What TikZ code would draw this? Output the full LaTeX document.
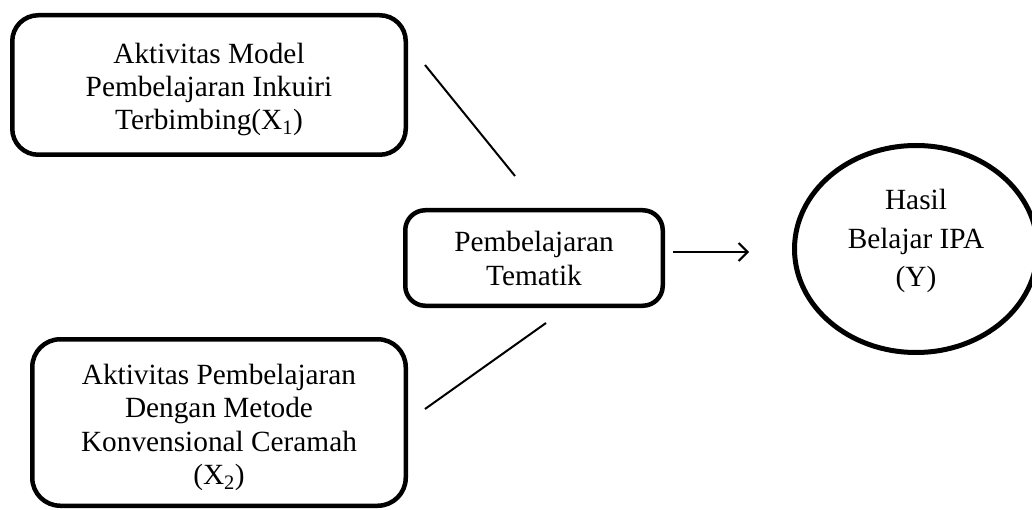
\documentclass[tikz,border=0pt]{standalone}
\usepackage{fontspec}
\setmainfont{Liberation Serif}
\usetikzlibrary{arrows.meta,shapes.geometric}
\begin{document}
\begin{tikzpicture}[x=1pt,y=-1pt,
  box/.style={draw,line width=4.5pt,rounded corners=#1,inner sep=0pt},
  link/.style={line width=2pt},
  txt/.style={align=center,inner sep=0pt,font=\fontsize{29.3}{33.3}\selectfont}]
\useasboundingbox (0,0) rectangle (1032,510);
\clip (0,0) rectangle (1032,510);
\node[box=26pt,minimum width=393.5pt,minimum height=139.5pt] (x1) at (209,85) {};
\node[txt] (x1t) at (209,89.5)
  {Aktivitas Model\\Pembelajaran Inkuiri\\Terbimbing(X\textsubscript{1})};
\node[box=28pt,minimum width=373.5pt,minimum height=166.5pt] (x2) at (219,422.5) {};
\node[txt] (x2t) at (219,427.5)
  {Aktivitas Pembelajaran\\Dengan Metode\\Konvensional Ceramah\\(X\textsubscript{2})};
\node[box=20pt,minimum width=257.5pt,minimum height=95.5pt] (tm) at (534,258) {};
\node[txt] (tmt) at (534,258.5) {Pembelajaran\\Tematik};
\node[draw,ellipse,line width=5pt,minimum width=243pt,minimum height=207pt,inner sep=0pt] (y) at (916,249) {};
\node[txt,font=\fontsize{29.3}{38.5}\selectfont] (yt) at (916,241)
  {Hasil\\Belajar IPA\\(Y)};
\coordinate (a1) at (425,65);
\coordinate (b1) at (515,176);
\coordinate (a2) at (425,409);
\coordinate (b2) at (546,323);
\coordinate (c1) at (673,252);
\coordinate (c2) at (749,252);
\draw[link] (a1) -- (b1);
\draw[link] (a2) -- (b2);
\draw[link,-{Straight Barb[length=9pt,width=18pt,line width=2pt]}] (c1) -- (c2);
\end{tikzpicture}
\end{document}
